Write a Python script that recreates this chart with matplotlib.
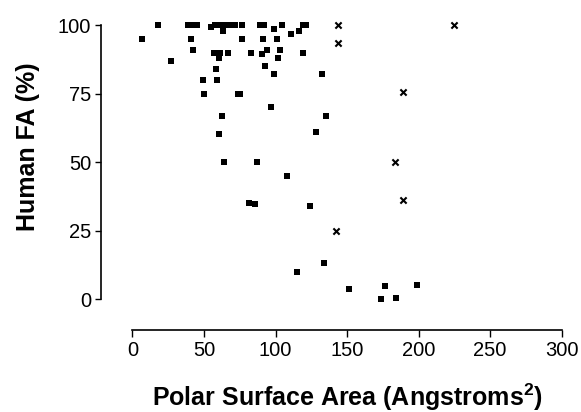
import matplotlib
matplotlib.use("Agg")
import matplotlib.pyplot as plt

# ------------------------------------------------------------
# Data (PSA vs human fraction absorbed)
# ------------------------------------------------------------
square_psa = [
    6.6, 17.6, 27.1, 39.0, 42.1, 45.2, 40.7, 42.0, 49.4, 50.1,
    54.7, 57.8, 61.3, 64.8, 68.3, 71.5, 63.6, 57.0, 61.3, 67.1,
    60.8, 58.4, 59.4, 73.6, 75.3, 62.5, 60.8, 64.1, 76.7, 76.9,
    82.8, 81.6, 85.8, 87.0, 89.0, 91.7, 91.2, 90.3, 94.2, 92.8,
    99.1, 97.0, 98.9, 104.5, 101.2, 103.3, 101.9, 108.2, 111.0, 116.2,
    119.2, 121.5, 118.9, 132.4, 135.5, 128.1, 123.8, 134.1, 115.0, 151.4,
    176.7, 199.1, 173.9, 184.4,
]
square_fa = [
    95.0, 100, 87.0, 100, 100, 100, 95.0, 91.0, 80.0, 75.0,
    99.3, 100, 100, 100, 100, 100, 98.0, 90.0, 90.0, 90.0,
    88.0, 84.0, 80.0, 75.0, 75.0, 67.0, 60.2, 50.0, 100, 95.0,
    90.0, 35.2, 34.6, 50.0, 100, 100, 95.0, 89.5, 91.0, 85.1,
    82.2, 70.2, 98.8, 100, 95.0, 91.0, 87.9, 45.0, 97.0, 98.0,
    100, 100, 90.0, 82.1, 66.9, 60.9, 34.1, 13.0, 10.0, 3.8,
    4.9, 5.0, 0.0, 0.4,
]

cross_psa = [143.4, 143.8, 224.9, 189.0, 183.2, 189.0, 142.2]
cross_fa = [100, 93.4, 100, 75.8, 50.1, 36.1, 25.0]

x_ticks = [0, 50, 100, 150, 200, 250, 300]
y_ticks = [0, 25, 50, 75, 100]

plt.rcParams["font.family"] = ["Liberation Sans", "DejaVu Sans"]
plt.rcParams["mathtext.fontset"] = "custom"
plt.rcParams["mathtext.rm"] = "Liberation Sans"
plt.rcParams["mathtext.bf"] = "Liberation Sans:bold"

fig = plt.figure(figsize=(5.81, 4.12), dpi=100)
ax = fig.add_axes([0.1738, 0.199, 0.793, 0.766])

ax.scatter(square_psa, square_fa, marker="s", s=18, color="black",
           linewidths=0, clip_on=False, zorder=3)
ax.scatter(cross_psa, cross_fa, marker="x", s=20, color="black",
           linewidths=1.5, clip_on=False, zorder=3)

ax.set_xlim(-22, 300)
ax.set_ylim(-11.3, 104)

ax.spines["top"].set_visible(False)
ax.spines["right"].set_visible(False)
ax.spines["left"].set_bounds(0, 100)
ax.spines["bottom"].set_bounds(0, 300)
for side in ("left", "bottom"):
    ax.spines[side].set_linewidth(1.2)

ax.set_xticks(x_ticks)
ax.set_yticks(y_ticks)
ax.tick_params(axis="both", labelsize=14.5, width=1.0, direction="out")
ax.tick_params(axis="y", length=4, pad=3)
ax.tick_params(axis="x", length=5, pad=3)

# axis titles placed where the reference has them
fig.text(28 / 581, 1 - 147 / 412, "Human FA (%)", rotation=90,
         fontsize=18, fontweight="bold", ha="center", va="center")
fig.text(347 / 581, 1 - 397 / 412,
         r"Polar Surface Area (Angstroms$^\mathbf{2}$)",
         fontsize=18, fontweight="bold", ha="center", va="center")

fig.savefig("out.png", dpi=100)
